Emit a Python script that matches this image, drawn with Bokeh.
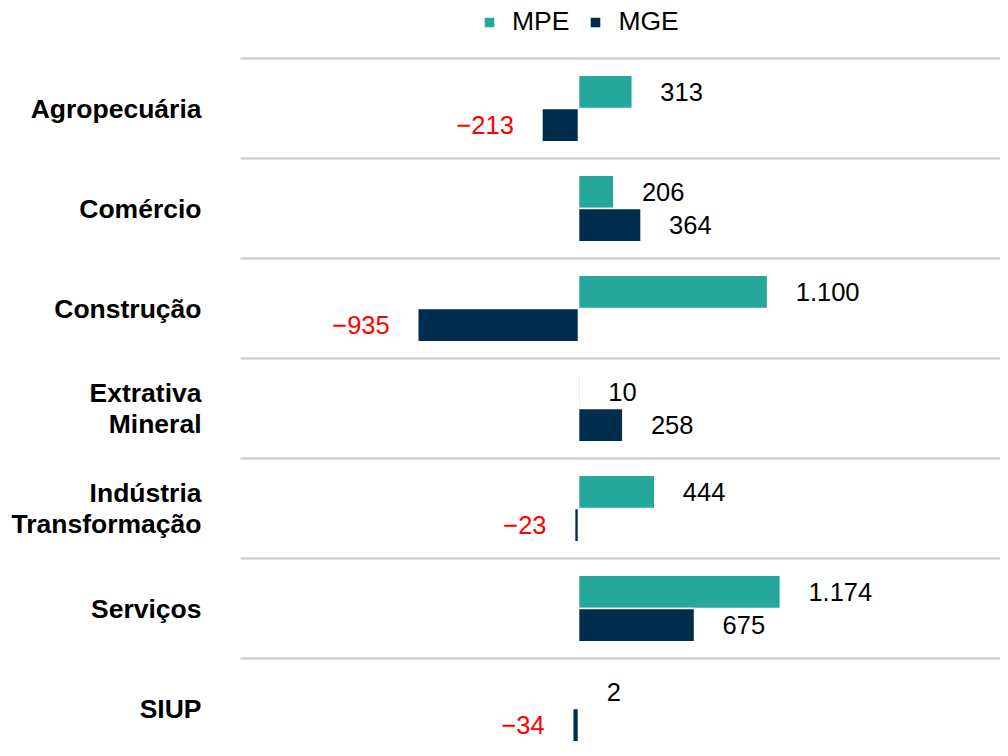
from bokeh.plotting import figure
from bokeh.models import Range1d, ColumnDataSource, Legend, LegendItem
from bokeh.core.properties import value
from bokeh.embed import file_html
from bokeh.resources import INLINE

# ---- data ----
categories = ["Agropecuária", "Comércio", "Construção", "Extrativa\nMineral",
              "Indústria\nTransformação", "Serviços", "SIUP"]
series_names = ["MPE", "MGE"]
mpe = [313, 206, 1100, 10, 444, 1174, 2]
mge = [-213, 364, -935, 258, -23, 675, -34]

# ---- layout constants ----
W, H = 1000, 748
UPP = 5.814                      # data units per pixel
ZERO_PX = 578
X0, X1 = -ZERO_PX * UPP, (W - ZERO_PX) * UPP
Y_TOP = -1.08
Y_BOTTOM = Y_TOP + H / 100.0
TEAL = "#26A79B"
NAVY = "#002D4B"
FONT = "Liberation Sans"


def fmt(v):
    s = f"{abs(v):,}".replace(",", ".")
    return ("\u2212" + s) if v < 0 else s


def make_source(vals, off):
    n = len(vals)
    return ColumnDataSource(dict(
        y=[i + off for i in range(n)],
        v=vals,
        label=[fmt(v) for v in vals],
        xoff=[28 if v >= 0 else -28 for v in vals],
        align=["left" if v >= 0 else "right" for v in vals],
        color=["#000000" if v >= 0 else "#FF0000" for v in vals],
    ))


p = figure(width=W, height=H, output_backend="svg", toolbar_location=None,
           x_range=Range1d(X0, X1), y_range=Range1d(Y_BOTTOM, Y_TOP),
           x_axis_type=None, y_axis_type=None, min_border=0)
p.grid.visible = False
p.outline_line_color = None

# separators
n = len(categories)
sep_y = [i - 0.5 for i in range(n + 1)]
sep_x0 = X0 + 240 * UPP
p.segment(x0=[sep_x0] * len(sep_y), y0=sep_y, x1=[X1] * len(sep_y), y1=sep_y,
          line_color="#C8C8C8", line_width=2)

src_mpe = make_source(mpe, -0.1667)
src_mge = make_source(mge, 0.1667)

r1 = p.hbar(y="y", left=0, right="v", height=0.333, source=src_mpe,
            fill_color=TEAL, line_color="white", line_width=1.6)
r2 = p.hbar(y="y", left=0, right="v", height=0.333, source=src_mge,
            fill_color=NAVY, line_color="white", line_width=1.6)

for src in (src_mpe, src_mge):
    p.text(x="v", y="y", text="label", source=src, x_offset="xoff",
           text_align="align", text_baseline="middle", text_color="color",
           text_font=value(FONT), text_font_size="25.5px")

# category labels
cat_src = ColumnDataSource(dict(x=[X0 + 201 * UPP] * n, y=list(range(n)), t=categories))
p.text(x="x", y="y", text="t", source=cat_src, text_align="right",
       text_baseline="middle", text_font=value(FONT), text_font_style="bold",
       text_font_size="26.5px", text_line_height=1.02, text_color="#000000")

legend = Legend(items=[LegendItem(label=series_names[0], renderers=[r1]),
                       LegendItem(label=series_names[1], renderers=[r2])],
                orientation="horizontal", location=(482, 711),
                padding=0, margin=0, spacing=19, label_standoff=16,
                glyph_width=14, glyph_height=14, label_height=26,
                label_text_font=FONT, label_text_font_size="26.5px",
                label_text_color="#000000",
                border_line_alpha=0, background_fill_alpha=0)
p.add_layout(legend)

open("out.html", "w").write(file_html(p, INLINE))
